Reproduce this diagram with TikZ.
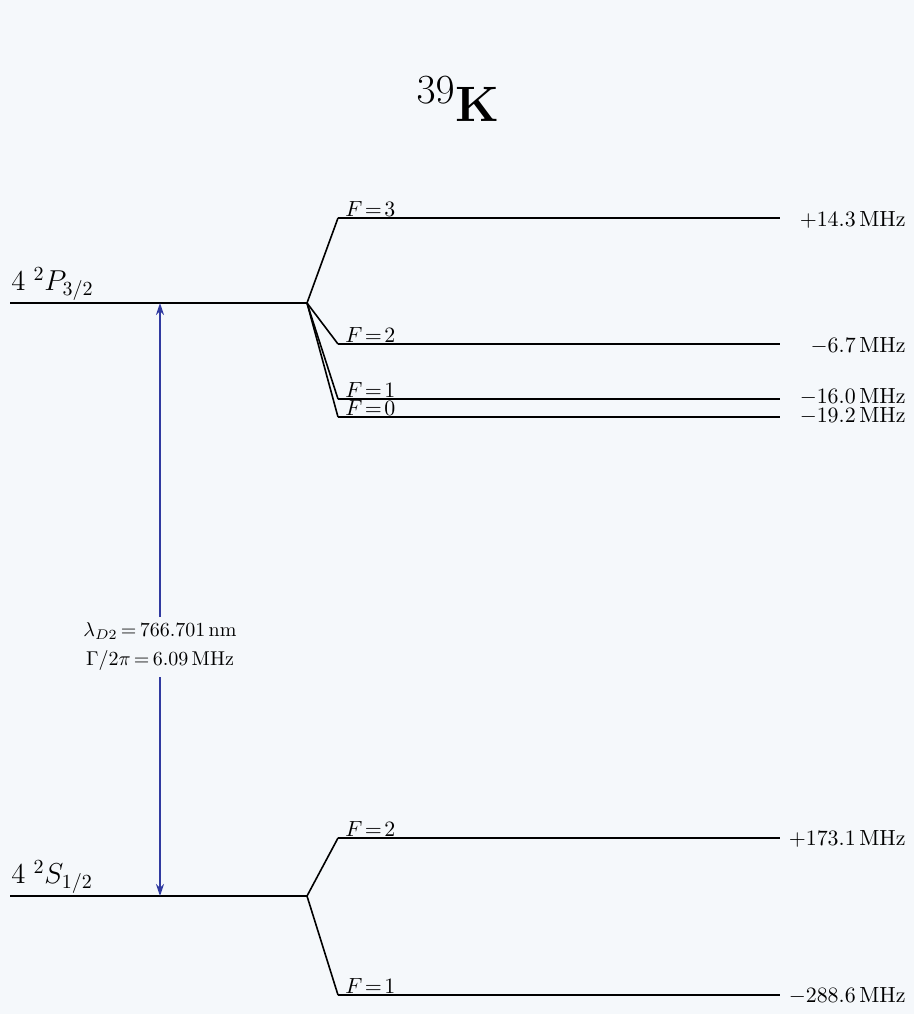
\documentclass[tikz,border=0pt]{standalone}
\usetikzlibrary{arrows.meta}
\definecolor{bgc}{RGB}{245,248,251}
\definecolor{arrowblue}{RGB}{48,58,160}
\newcommand{\teq}{\mathrel{\mkern-2mu=\mkern-2mu}}
\newcommand{\tteq}{\mathrel{\mkern-3mu=\mkern-3mu}}
\begin{document}
\begin{tikzpicture}[x=0.5pt,y=-0.5pt,
  level/.style={line width=1pt,black},
  fan/.style={line width=0.8pt,black},
  flabel/.style={anchor=base west,inner sep=0pt,font=\fontsize{10.95}{13.6}\selectfont},
  elabel/.style={anchor=east,inner sep=0pt,font=\fontsize{10.95}{13.6}\selectfont},
  termlabel/.style={anchor=south west,inner sep=1.5pt,font=\Large},
  transition/.style={line width=1pt,arrowblue,{Stealth[length=6pt,width=4pt]}-{Stealth[length=6pt,width=4pt]}}]
\fill[bgc] (0,0) rectangle (914,1014);
\useasboundingbox (0,0) rectangle (914,1014);
% title
\node (title) at (458,99) {\Huge $^{39}\mathbf{K}$};
% fine structure levels
\coordinate (Pl) at (10,303);
\coordinate (Pr) at (307,303);
\coordinate (Sl) at (10,896);
\coordinate (Sr) at (307,896);
\draw[level] (Pl) -- (Pr);
\draw[level] (Sl) -- (Sr);
\node[termlabel] (Plab) at (8,304) {$4\;{}^2P_{3/2}$};
\node[termlabel] (Slab) at (8,897) {$4\;{}^2S_{1/2}$};
% hyperfine P3/2
\coordinate (P3a) at (338,218); \coordinate (P3b) at (780,218);
\coordinate (P2a) at (338,344); \coordinate (P2b) at (780,344);
\coordinate (P1a) at (338,399); \coordinate (P1b) at (780,399);
\coordinate (P0a) at (338,417); \coordinate (P0b) at (780,417);
\foreach \n in {P3,P2,P1,P0}{
  \draw[fan] (Pr) -- (\n a);
  \draw[level] (\n a) -- (\n b);
}
\node[flabel] (F3) at (345,216) {$F\tteq 3$};
\node[flabel] (F2) at (345,342) {$F\tteq 2$};
\node[flabel] (F1) at (345,397) {$F\tteq 1$};
\node[flabel] (F0) at (345,415) {$F\tteq 0$};
\node[elabel] (E3) at (906,220) {$+14.3\,\mathrm{MHz}$};
\node[elabel] (E2) at (906,346) {$-6.7\,\mathrm{MHz}$};
\node[elabel] (E1) at (906,397) {$-16.0\,\mathrm{MHz}$};
\node[elabel] (E0) at (906,416) {$-19.2\,\mathrm{MHz}$};
% hyperfine S1/2
\coordinate (S2a) at (338,838); \coordinate (S2b) at (780,838);
\coordinate (S1a) at (338,995); \coordinate (S1b) at (780,995);
\foreach \n in {S2,S1}{
  \draw[fan] (Sr) -- (\n a);
  \draw[level] (\n a) -- (\n b);
}
\node[flabel] (G2) at (345,836) {$F\tteq 2$};
\node[flabel] (G1) at (345,993) {$F\tteq 1$};
\node[elabel] (H2) at (906,839) {$+173.1\,\mathrm{MHz}$};
\node[elabel] (H1) at (906,996) {$-288.6\,\mathrm{MHz}$};
% transition
\coordinate (Atop) at (160,303);
\coordinate (Abot) at (160,896);
\draw[transition] (Atop) -- (Abot);
\node[fill=bgc,align=center,inner sep=3pt,font=\fontsize{10}{14.5}\selectfont] (D2) at (160,647)
  {$\lambda_{D2}\teq 766.701\,\mathrm{nm}$\\ $\Gamma/2\pi\teq 6.09\,\mathrm{MHz}$};
\end{tikzpicture}
\end{document}
